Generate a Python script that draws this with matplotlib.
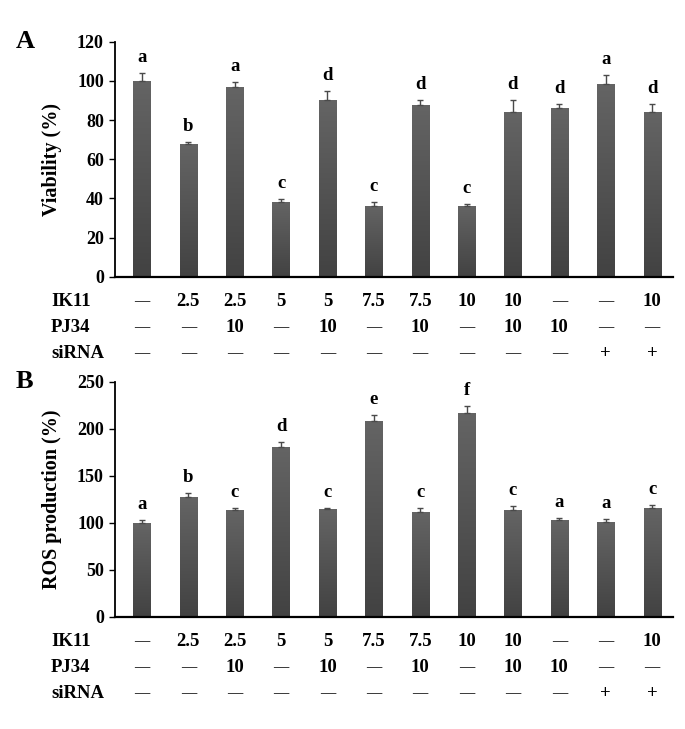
import numpy as np
import matplotlib
matplotlib.use("Agg")
import matplotlib.pyplot as plt
from matplotlib.colors import LinearSegmentedColormap

plt.rcParams['font.family'] = ['Liberation Serif', 'DejaVu Serif']
plt.rcParams['font.weight'] = 'bold'

ik11 = ["—", "2.5", "2.5", "5", "5", "7.5", "7.5", "10", "10", "—", "—", "10"]
pj34 = ["—", "—", "10", "—", "10", "—", "10", "—", "10", "10", "—", "—"]
sirna = ["—", "—", "—", "—", "—", "—", "—", "—", "—", "—", "+", "+"]

viability = [100, 67.8, 97, 38, 90.2, 36.3, 87.9, 36.3, 84.1, 86.2, 98.4, 84.1]
viability_err = [4, 1, 2.3, 1.5, 4.5, 1.7, 2.3, 1.0, 6, 1.8, 4.6, 4]
viability_sig = ["a", "b", "a", "c", "d", "c", "d", "c", "d", "d", "a", "d"]

ros = [100, 126.9, 113, 180.9, 114.5, 208.5, 111.7, 217, 113.8, 102.8, 100.7, 115.6]
ros_err = [2.5, 4.6, 3, 5, 1.2, 6, 4, 7, 4, 1.8, 2.8, 3.2]
ros_sig = ["a", "b", "c", "d", "c", "e", "c", "f", "c", "a", "a", "c"]

fig = plt.figure(figsize=(6.85, 7.29), dpi=100)
cmap = LinearSegmentedColormap.from_list("g", ["#424242", "#646464"])
grad = np.linspace(0, 1, 100).reshape(-1, 1)


def panel(rect, vals, errs, sig, ymax, ystep, ylabel, letter):
    ax = fig.add_axes(rect)
    x = np.arange(len(vals))
    bars = ax.bar(x, vals, width=0.37, color="#555555", zorder=2)
    for b in bars:
        x0, y0 = b.get_x(), b.get_y()
        w, h = b.get_width(), b.get_height()
        im = ax.imshow(grad, cmap=cmap, extent=[x0, x0 + w, y0, y0 + h],
                       aspect='auto', origin='lower', zorder=2)
        im.set_clip_path(b)
    ax.errorbar(x, vals, yerr=[np.zeros(len(errs)), errs], fmt='none',
                ecolor="#4a4a4a", elinewidth=1.0, capsize=2.5, capthick=1.0, zorder=3)
    for xi, v, e, s in zip(x, vals, errs, sig):
        ax.annotate(s, (xi, v + e), xytext=(0, 5), textcoords='offset points',
                    ha='center', va='bottom', fontsize=13.5, fontweight='bold')
    ax.set_xlim(-0.58, 11.45)
    ax.set_ylim(0, ymax)
    ax.set_yticks(np.arange(0, ymax + 1, ystep))
    ax.tick_params(axis='y', labelsize=13, length=4, width=1.0, direction='out', pad=4)
    for t in ax.get_yticklabels():
        t.set_fontweight('bold')
    ax.set_xticks([])
    ax.spines['top'].set_visible(False)
    ax.spines['right'].set_visible(False)
    ax.spines['left'].set_linewidth(1.3)
    ax.spines['bottom'].set_linewidth(1.6)
    ax.set_ylabel(ylabel, fontsize=14.5, fontweight='bold')
    ax.yaxis.set_label_coords(-0.095, 0.5)
    trans = ax.get_xaxis_transform()
    hpx = rect[3] * 729
    rows = [("IK11", ik11, 25), ("PJ34", pj34, 51), ("siRNA", sirna, 77)]
    for name, labels, off in rows:
        yy = -off / hpx
        fig.text(51 / 685, rect[1] - off / 729, name, ha='left', va='center',
                 fontsize=13.5, fontweight='bold')
        for xi, lab in zip(x, labels):
            fs = 11 if lab == "—" else 13.5
            ax.text(xi, yy, lab, transform=trans, ha='center', va='center',
                    fontsize=fs, fontweight='bold', clip_on=False)
    fig.text(16 / 685, rect[1] + rect[3], letter, ha='left', va='center',
             fontsize=19, fontweight='bold')
    return ax


axA = panel([115 / 685, (729 - 276.7) / 729, 558 / 685, 235 / 729],
            viability, viability_err, viability_sig, 120, 20, "Viability (%)", "A")
axB = panel([115 / 685, (729 - 616.7) / 729, 558 / 685, 235 / 729],
            ros, ros_err, ros_sig, 250, 50, "ROS production (%)", "B")

fig.savefig("out.png", dpi=100)
